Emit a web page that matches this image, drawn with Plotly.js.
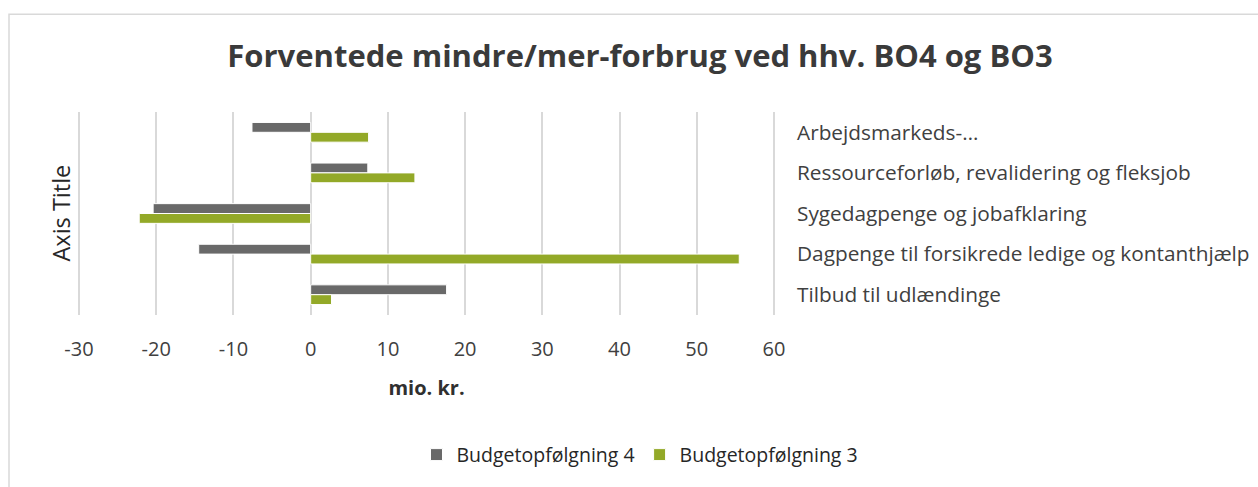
<!DOCTYPE html>
<html>
<head>
<meta charset="utf-8">
<script src="https://cdn.plot.ly/plotly-3.0.1.min.js"></script>
<style>
  html, body { margin: 0; padding: 0; background: #ffffff; }
  #chart { width: 1258px; height: 487px; }
</style>
</head>
<body>
<div id="chart"></div>
<script>
// Data (mio. kr.)
const categories = [
  "Arbejdsmarkeds-…",
  "Ressourceforløb, revalidering og fleksjob",
  "Sygedagpenge og jobafklaring",
  "Dagpenge til forsikrede ledige og kontanthjælp",
  "Tilbud til udlændinge"
];
const seriesNames = ["Budgetopfølgning 4", "Budgetopfølgning 3"];
const bo4Values = [-7.6, 7.4, -20.4, -14.5, 17.6];
const bo3Values = [7.5, 13.5, -22.2, 55.5, 2.7];
const xTickValues = [-30, -20, -10, 0, 10, 20, 30, 40, 50, 60];

const W = 1258, H = 487;
// plot area a few px wider than -30..60 so the edge gridlines are drawn
const PAD = 3;
const M = { l: 79 - PAD, r: W - 774 - PAD, t: 112, b: H - 318 };
const plotW = W - M.l - M.r, plotH = H - M.t - M.b;
const px2x = p => (p - M.l) / plotW;
const px2y = p => (H - M.b - p) / plotH;
const unitPx = (774 - 79) / 90;
const xRange = [-30 - PAD / unitPx, 60 + PAD / unitPx];

const FONT = "Open Sans, sans-serif";
const gridColor = "#d9d9d9";

const traces = [
  {
    type: "bar", orientation: "h", name: seriesNames[0],
    y: categories, x: bo4Values,
    marker: { color: "#696969", line: { color: "#ffffff", width: 1 } },
    hoverinfo: "x+name"
  },
  {
    type: "bar", orientation: "h", name: seriesNames[1],
    y: categories, x: bo3Values,
    marker: { color: "#93a928", line: { color: "#ffffff", width: 1 } },
    hoverinfo: "x+name"
  }
];

const layout = {
  width: W, height: H,
  margin: M,
  paper_bgcolor: "#ffffff",
  plot_bgcolor: "#ffffff",
  font: { family: FONT, size: 20, color: "#404040" },
  barmode: "group",
  bargap: 0.515,
  bargroupgap: 0,
  showlegend: true,
  title: {
    text: "Forventede mindre/mer-forbrug ved hhv. BO4 og BO3",
    font: { family: FONT, size: 31, weight: 700, color: "#3a3a3a" },
    x: 640 / W, xanchor: "center",
    y: 1 - 56 / H, yanchor: "middle"
  },
  xaxis: {
    range: xRange,
    tickmode: "array",
    tickvals: xTickValues,
    ticktext: xTickValues.map(String),
    showgrid: true, gridcolor: gridColor, gridwidth: 1.5,
    zeroline: true, zerolinecolor: gridColor, zerolinewidth: 1.5,
    showline: false, ticks: "",
    ticklabelstandoff: 20,
    tickfont: { family: FONT, size: 20, color: "#404040" },
    title: {
      text: "<b>mio. kr.</b>",
      font: { family: FONT, size: 20, color: "#303030" },
      standoff: 19
    },
    automargin: false,
    fixedrange: true
  },
  yaxis: {
    type: "category",
    autorange: "reversed",
    side: "right",
    showgrid: false, zeroline: false, showline: false, ticks: "",
    ticklabelstandoff: 22 - PAD,
    tickfont: { family: FONT, size: 20.8, color: "#404040" },
    automargin: false,
    fixedrange: true
  },
  legend: {
    orientation: "h",
    x: px2x(640), xanchor: "center",
    y: px2y(460), yanchor: "middle",
    font: { family: FONT, size: 19.5, color: "#262626" },
    bgcolor: "rgba(0,0,0,0)"
  },
  annotations: [
    {
      text: "Axis Title",
      xref: "paper", yref: "paper",
      x: px2x(60), y: px2y(215),
      xanchor: "center", yanchor: "middle",
      textangle: -90, showarrow: false,
      font: { family: FONT, size: 23.5, color: "#262626" }
    }
  ],
  shapes: [
    {
      type: "rect", xref: "paper", yref: "paper",
      x0: px2x(9), x1: px2x(1275),
      y0: px2y(500), y1: px2y(12.7),
      line: { color: gridColor, width: 1.5 },
      fillcolor: "rgba(0,0,0,0)",
      layer: "below"
    }
  ]
};

Plotly.newPlot("chart", traces, layout, { displayModeBar: false, responsive: false });
</script>
</body>
</html>
